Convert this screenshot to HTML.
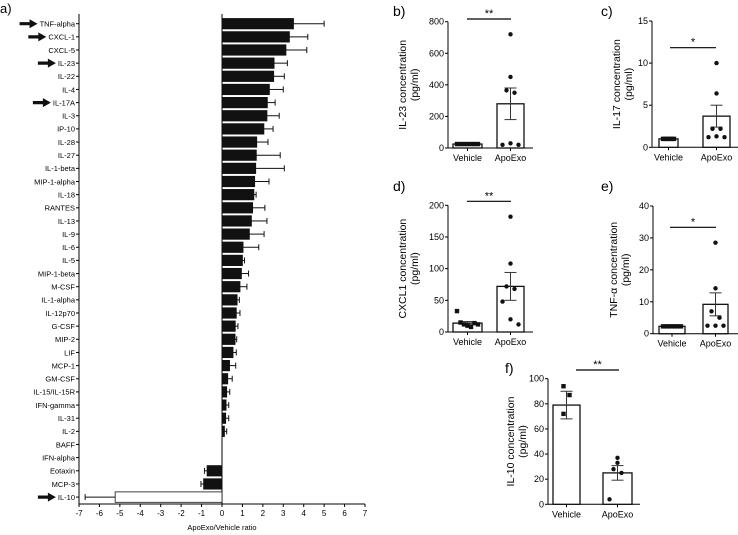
<!DOCTYPE html>
<html><head><meta charset="utf-8"><style>
html,body{margin:0;padding:0;background:#fff;}
svg{display:block;font-family:"Liberation Sans",sans-serif;}
</style></head><body>
<svg id="fig" width="738" height="535" viewBox="0 0 738 535"></svg>
<script>
// ---- Panel a data ----
const cytokines = ["TNF-alpha","CXCL-1","CXCL-5","IL-23","IL-22","IL-4","IL-17A","IL-3","IP-10","IL-28","IL-27","IL-1-beta","MIP-1-alpha","IL-18","RANTES","IL-13","IL-9","IL-6","IL-5","MIP-1-beta","M-CSF","IL-1-alpha","IL-12p70","G-CSF","MIP-2","LIF","MCP-1","GM-CSF","IL-15/IL-15R","IFN-gamma","IL-31","IL-2","BAFF","IFN-alpha","Eotaxin","MCP-3","IL-10"];
const ratios = [3.5,3.3,3.13,2.55,2.53,2.32,2.22,2.2,2.05,1.7,1.68,1.65,1.6,1.56,1.5,1.44,1.34,1.03,1.0,0.95,0.88,0.74,0.7,0.65,0.64,0.54,0.37,0.28,0.23,0.2,0.18,0.12,0,0,-0.73,-0.9,-5.23];
const ratioErr = [1.5,0.9,1.02,0.65,0.52,0.68,0.38,0.6,0.45,0.55,1.17,1.4,0.7,0.11,0.6,0.76,0.72,0.77,0.1,0.35,0.34,0.11,0.18,0.13,0.08,0.16,0.3,0.22,0.15,0.13,0.15,0.11,0,0,0.13,0.13,1.47];
const arrowed = ["TNF-alpha","CXCL-1","IL-23","IL-17A","IL-10"];
const xTicks = [-7,-6,-5,-4,-3,-2,-1,0,1,2,3,4,5,6,7];

// ---- Sub-panel data ----
const groups = ["Vehicle","ApoExo"];
const il23Means = [25,280], il23Sem = [0,100];
const il23Veh = [25,25,25,25,25,25,25], il23Apo = [720,450,365,350,20,30,20];
const il17Means = [1.0,3.7], il17Sem = [0,1.3];
const il17Veh = [1,1,1,1,1,1,1], il17Apo = [10,6.4,2.2,2.2,1.2,1.3,1.2];
const cxclMeans = [14,72], cxclSem = [2.5,22];
const cxclVeh = [33,15,12,10,8,14,12], cxclApo = [182,108,72,68,48,20,12];
const tnfMeans = [2.3,9.2], tnfSem = [0.1,3.6];
const tnfVeh = [2.3,2.3,2.3,2.3,2.3,2.3,2.3], tnfApo = [28.5,14.2,7,5,2.5,2.5,2.5];
const il10Means = [79,25], il10Sem = [11,5.8];
const il10Veh = [94,87,72], il10Apo = [37,33,28,25,4];

const NS="http://www.w3.org/2000/svg";
const svg=document.getElementById('fig');
function mk(tag,attrs,parent,txt){const e=document.createElementNS(NS,tag);for(const k in attrs)e.setAttribute(k,attrs[k]);if(txt!==undefined)e.textContent=txt;(parent||svg).appendChild(e);return e;}

// ---- Panel a ----
const ga=mk('g',{});


const plab=mk('text',{x:0,y:13,'font-size':13},ga,'a)');


const ax0=79, ax1=365, xmin=-7, xmax=7;
const sx=v=>ax0+(v-xmin)/(xmax-xmin)*(ax1-ax0);
const rowY=i=>23.7+i*13.15;
const axisY=504;
mk('line',{x1:ax0,y1:14,x2:ax0,y2:axisY,stroke:'#000','stroke-width':1},ga);
mk('line',{x1:ax0,y1:axisY,x2:ax1,y2:axisY,stroke:'#000','stroke-width':1},ga);
mk('line',{x1:sx(0),y1:14,x2:sx(0),y2:axisY,stroke:'#000','stroke-width':1},ga);
xTicks.forEach(t=>{
  mk('line',{x1:sx(t),y1:axisY,x2:sx(t),y2:axisY+3,stroke:'#000'},ga);
  const tl=mk('text',{x:sx(t),y:axisY+12,'font-size':8,'text-anchor':'middle'},ga,String(t));
  
  
});
const xt=mk('text',{x:sx(0),y:530,'font-size':7.5,'text-anchor':'middle'},ga,'ApoExo/Vehicle ratio');


cytokines.forEach((c,i)=>{
  const y=rowY(i);
  mk('line',{x1:ax0-3,y1:y,x2:ax0,y2:y,stroke:'#000'},ga);
  const t=mk('text',{x:ax0-4,y:y+2.8,'font-size':7.5,'text-anchor':'end'},ga,c);
  
  
  const v=ratios[i];
  if(v!==0){
    const x0=Math.min(sx(0),sx(v)), w=Math.abs(sx(v)-sx(0));
    const b=mk('rect',{x:x0,y:y-5.2,width:w,height:10.4,fill:v<-3?'#fff':'#111',stroke:'#111','stroke-width':0.8},ga);
    
    
    const e=v+Math.sign(v)*ratioErr[i];
    mk('line',{x1:sx(v),y1:y,x2:sx(e),y2:y,stroke:'#111','stroke-width':1},ga);
    mk('line',{x1:sx(e),y1:y-3,x2:sx(e),y2:y+3,stroke:'#111','stroke-width':1},ga);
  }
  if(arrowed.includes(c)){
    const tw=t.getComputedTextLength();
    const ex=ax0-5-tw-1;
    const ar=mk('polygon',{points:`${ex-18},${y-1.6} ${ex-8},${y-1.6} ${ex-8},${y-4.5} ${ex},${y} ${ex-8},${y+4.5} ${ex-8},${y+1.6} ${ex-18},${y+1.6}`,fill:'#111'},ga);
    
    
  }
});

// ---- Sub-panels ----
function panel(o){
  const g=mk('g',{});
  
  
  const sy=v=>o.y0-(v/o.ymax)*(o.y0-o.yTop);
  const pl=mk('text',{x:o.lx,y:o.ly,'font-size':14},g,o.label);
  
  
  mk('line',{x1:o.ax,y1:o.yTop,x2:o.ax,y2:o.y0,stroke:'#000'},g);
  mk('line',{x1:o.ax,y1:o.y0,x2:o.axEnd,y2:o.y0,stroke:'#000'},g);
  o.ticks.forEach(t=>{
    mk('line',{x1:o.ax-3,y1:sy(t),x2:o.ax,y2:sy(t),stroke:'#000'},g);
    const tl=mk('text',{x:o.ax-4,y:sy(t)+3,'font-size':9,'text-anchor':'end'},g,String(t));
    
    
  });
  const yl=mk('text',{transform:`translate(${o.ylx},${(o.yTop+o.y0)/2}) rotate(-90)`,'font-size':10.5,'text-anchor':'middle'},g);
  
  
  mk('tspan',{x:0,dy:0},yl,o.ytitle);
  mk('tspan',{x:0,dy:12},yl,'(pg/ml)');
  const pts=[o.veh,o.apo];
  groups.forEach((gr,i)=>{
    const [b0,b1]=o.bars[i]; const cx=(b0+b1)/2;
    mk('line',{x1:cx,y1:o.y0,x2:cx,y2:o.y0+3,stroke:'#000'},g);
    const gl=mk('text',{x:cx,y:o.y0+13,'font-size':9,'text-anchor':'middle'},g,gr);
    
    
    const b=mk('rect',{x:b0,y:sy(o.means[i]),width:b1-b0,height:o.y0-sy(o.means[i]),fill:'#fff',stroke:'#111','stroke-width':1.3},g);
    
    
    const m=o.means[i],s=o.sem[i];
    if(s>0){
      mk('line',{x1:cx,y1:sy(m-s),x2:cx,y2:sy(m+s),stroke:'#333'},g);
      [m-s,m+s].forEach(v=>mk('line',{x1:cx-6,y1:sy(v),x2:cx+6,y2:sy(v),stroke:'#333'},g));
    }
    const n=pts[i].length;
    pts[i].forEach((v,j)=>{
      const off=n>1?(j/(n-1)-0.5)*(b1-b0-8):0;
      const px=n>=5?cx+off:cx+(j%2?3:-3);
      let d;
      if(i===0&&o.sq) d=mk('rect',{x:px-2.2,y:sy(v)-2.2,width:4.4,height:4.4,fill:'#111'},g);
      else d=mk('circle',{cx:(i===1&&n>=5)?cx+[0,0,-4,4,-8,0,8][j%7]:px,cy:sy(v),r:2.2,fill:'#111'},g);
      
      
    });
  });
  mk('line',{x1:o.sig[0],y1:o.sig[2],x2:o.sig[1],y2:o.sig[2],stroke:'#000','stroke-width':1.2},g);
  const st=mk('text',{x:(o.sig[0]+o.sig[1])/2,y:o.sig[2]-2,'font-size':11,'text-anchor':'middle'},g,o.stars);
  
  
}
panel({name:'panel-b',label:'b)',lx:393,ly:16,ax:448,axEnd:533,yTop:21.7,y0:148,ymax:800,ticks:[0,200,400,600,800],ylx:406,ytitle:'IL-23 concentration',bars:[[453,482],[497,524]],means:il23Means,sem:il23Sem,veh:il23Veh,apo:il23Apo,sq:true,sig:[467,511,19],stars:'**'});
panel({name:'panel-c',label:'c)',lx:601,ly:16,ax:652,axEnd:738,yTop:21,y0:147.3,ymax:15,ticks:[0,5,10,15],ylx:620,ytitle:'IL-17 concentration',bars:[[659,678],[703,730]],means:il17Means,sem:il17Sem,veh:il17Veh,apo:il17Apo,sq:true,sig:[670,716,47.7],stars:'*'});
panel({name:'panel-d',label:'d)',lx:393,ly:191,ax:448,axEnd:533,yTop:205.3,y0:332,ymax:200,ticks:[0,50,100,150,200],ylx:406,ytitle:'CXCL1 concentration',bars:[[453,482],[497,524]],means:cxclMeans,sem:cxclSem,veh:cxclVeh,apo:cxclApo,sq:true,sig:[467,511,201.3],stars:'**'});
panel({name:'panel-e',label:'e)',lx:601,ly:191,ax:653,axEnd:738,yTop:206,y0:333.7,ymax:40,ticks:[0,10,20,30,40],ylx:617,ytitle:'TNF-α concentration',bars:[[659,685],[703,728]],means:tnfMeans,sem:tnfSem,veh:tnfVeh,apo:tnfApo,sq:true,sig:[670,716,227.3],stars:'*'});
panel({name:'panel-f',label:'f)',lx:505,ly:373,ax:548,axEnd:640,yTop:378.7,y0:504.3,ymax:100,ticks:[0,20,40,60,80,100],ylx:514,ytitle:'IL-10 concentration',bars:[[553,580],[603,632]],means:il10Means,sem:il10Sem,veh:il10Veh,apo:il10Apo,sq:true,sig:[576,619,370],stars:'**'});
</script>
</body></html>
